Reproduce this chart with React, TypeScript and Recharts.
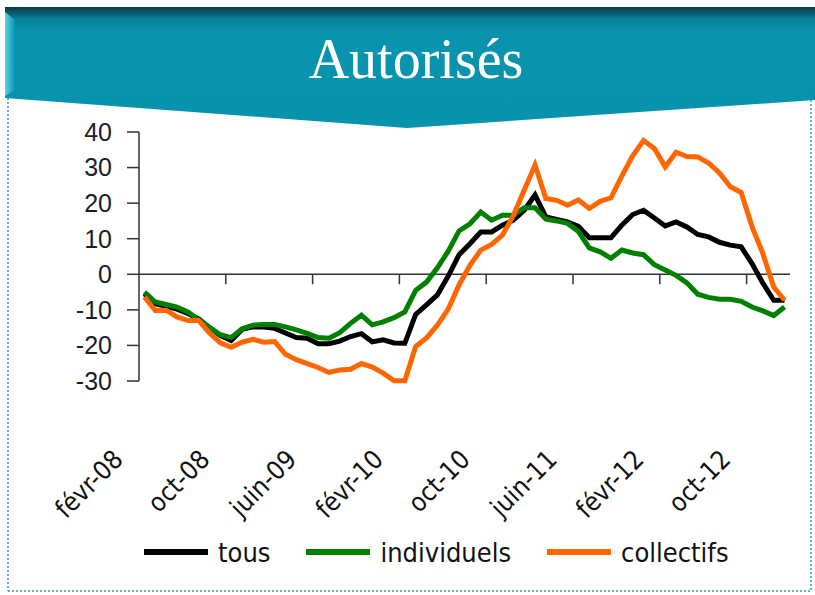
import { LineChart, Line, XAxis, YAxis, ReferenceLine, Legend } from 'recharts';

const monthNames = ['janv', 'févr', 'mars', 'avr', 'mai', 'juin', 'juil', 'août', 'sept', 'oct', 'nov', 'déc'];

// févr-08 .. janv-13, monthly
const months: string[] = Array.from({ length: 60 }, (_, k) => {
  const m = (k + 1) % 12;
  const y = 8 + Math.floor((k + 1) / 12);
  return `${monthNames[m]}-${String(y).padStart(2, '0')}`;
});

const tickLabels = ['févr-08', 'oct-08', 'juin-09', 'févr-10', 'oct-10', 'juin-11', 'févr-12', 'oct-12'];
const yTicks = [-30, -20, -10, 0, 10, 20, 30, 40];
const seriesOrder = ['tous', 'individuels', 'collectifs'];

const tous = [
  -5.5, -8.3, -9, -9.8, -11, -12.5, -15, -17.2, -18.6, -15.5,
  -14.8, -14.8, -15.2, -16.5, -17.8, -18, -19.5, -19.5, -18.8, -17.5,
  -16.7, -19, -18.4, -19.3, -19.4, -11.3, -8.6, -5.8, -0.5, 5.5,
  8.6, 11.9, 11.9, 13.8, 15.2, 18, 22.3, 16.1, 15.4, 14.7,
  13.5, 10.3, 10.3, 10.3, 13.8, 16.8, 18, 15.8, 13.6, 14.7,
  13.3, 11.2, 10.5, 9, 8.2, 7.7, 3, -2.5, -7.3, -7.3,
];

const individuels = [
  -5, -7.8, -8.5, -9.2, -10.6, -12.8, -15, -17, -17.8, -15.3,
  -14.3, -14.1, -14.1, -14.8, -15.6, -16.6, -17.8, -18, -16.4, -13.8,
  -11.5, -14.2, -13.4, -12.2, -10.6, -4.5, -2.2, 1.8, 6.5, 12.2,
  14.2, 17.5, 15.2, 16.6, 16.6, 18.7, 18.7, 15.5, 15, 14.3,
  12, 7.4, 6.3, 4.5, 6.8, 6, 5.5, 2.7, 1.2, -0.3,
  -2.4, -5.6, -6.5, -7, -7, -7.6, -9.2, -10.3, -11.6, -9.2,
];

const collectifs = [
  -6.4, -10.2, -10.1, -12, -13, -13, -16.5, -19.3, -20.5, -19.1,
  -18.3, -19.1, -18.9, -22.5, -24, -25.1, -26.2, -27.6, -26.9, -26.7,
  -25.1, -26.1, -27.8, -29.9, -29.9, -20.3, -17.9, -14.3, -9.8, -3,
  2.5, 6.8, 8.4, 11, 16.5, 23.6, 30.7, 21.3, 20.8, 19.4,
  20.9, 18.5, 20.5, 21.5, 27.6, 33.3, 37.6, 35.4, 30.2, 34.3,
  33.1, 33, 31.3, 28.5, 24.6, 23, 13.4, 5.8, -3.6, -7.3,
];

const data = months.map((month, i) => ({
  i,
  month,
  tous: tous[i],
  individuels: individuels[i],
  collectifs: collectifs[i],
}));

const tickIdx = tickLabels.map((l) => months.indexOf(l));
// small tick marks on the zero axis, between categories
const boundaries = tickIdx.slice(1).map((i) => i - 0.5);

const narrow = '"Liberation Sans Narrow", "DejaVu Sans Condensed", "Arial Narrow", sans-serif';

function MonthTick(props: any) {
  const { x, y, payload } = props;
  return (
    <g transform={`translate(${x - 20},${y + 80})`}>
      <text transform="rotate(-45)" textAnchor="end" fontFamily={narrow} fontSize={26} fill="#111">
        {months[payload.value]}
      </text>
    </g>
  );
}

function LegendContent(props: any) {
  const items = [...(props.payload || [])].sort(
    (a: any, b: any) => seriesOrder.indexOf(a.dataKey) - seriesOrder.indexOf(b.dataKey),
  );
  return (
    <div style={{ display: 'flex', alignItems: 'center', height: 36, paddingLeft: 144 }}>
      {items.map((entry: any) => (
        <div key={entry.value} style={{ display: 'flex', alignItems: 'center', marginRight: 36 }}>
          <span style={{ display: 'inline-block', width: 64, height: 6, background: entry.color, marginRight: 10 }} />
          <span style={{ fontFamily: narrow, fontSize: 27, color: '#111' }}>{entry.value}</span>
        </div>
      ))}
    </div>
  );
}

function Banner() {
  return (
    <svg width={815} height={595} style={{ position: 'absolute', left: 0, top: 0 }}>
      <defs>
        <linearGradient id="band" x1="0" y1="0" x2="0" y2="1">
          <stop offset="0" stopColor="#06394a" />
          <stop offset="0.1" stopColor="#087f99" />
          <stop offset="0.2" stopColor="#0993ae" />
          <stop offset="1" stopColor="#0893ad" />
        </linearGradient>
        <linearGradient id="bevel" x1="0" y1="0" x2="1" y2="0">
          <stop offset="0" stopColor="#5fd3e8" />
          <stop offset="1" stopColor="#0993ae" />
        </linearGradient>
      </defs>
      <polygon points="5,7 815,7 815,100 407,128 5,98" fill="url(#band)" />
      <polygon points="5,12 15,20 15,90 5,96" fill="url(#bevel)" />
      <text x={416} y={78} textAnchor="middle" fontFamily='"Liberation Serif", serif' fontSize={56} fill="#fff">
        Autorisés
      </text>
      <line x1={8} y1={98} x2={8} y2={591} stroke="#2a9db4" strokeWidth={1.5} strokeDasharray="2 2" />
      <line x1={8} y1={591} x2={811} y2={591} stroke="#2a9db4" strokeWidth={1.5} strokeDasharray="2 2" />
      <line x1={811} y1={100} x2={811} y2={591} stroke="#2a9db4" strokeWidth={1.5} strokeDasharray="2 2" />
    </svg>
  );
}

export default function App() {
  return (
    <div style={{ position: 'absolute', left: 0, top: 0, width: 815, height: 595, background: '#fff', overflow: 'hidden' }}>
      <Banner />
      <div style={{ position: 'absolute', left: 0, top: 0 }}>
        <LineChart width={815} height={595} data={data} margin={{ top: 132, right: 25, bottom: 25, left: 0 }}>
          <XAxis
            dataKey="i"
            type="number"
            domain={[-0.5, 59.5]}
            ticks={tickIdx}
            interval={0}
            axisLine={false}
            tickLine={false}
            tickSize={0}
            tickMargin={0}
            height={153}
            tick={<MonthTick />}
          />
          <YAxis
            domain={[-30, 40]}
            ticks={yTicks}
            interval={0}
            width={139}
            tickSize={12}
            tickMargin={15}
            axisLine={{ stroke: '#333', strokeWidth: 1.5 }}
            tickLine={{ stroke: '#333', strokeWidth: 1.5 }}
            tick={{ fontFamily: '"Liberation Sans", Arial, sans-serif', fontSize: 25, fill: '#1c1c2c' }}
          />
          <ReferenceLine y={0} stroke="#333" strokeWidth={1.5} />
          {boundaries.map((b) => (
            <ReferenceLine
              key={b}
              segment={[{ x: b, y: 0 }, { x: b, y: -2.8 }]}
              stroke="#333"
              strokeWidth={1.5}
            />
          ))}
          <Legend verticalAlign="bottom" content={<LegendContent />} />
          <Line type="linear" dataKey="tous" name="tous" stroke="#000000" strokeWidth={5} dot={false} isAnimationActive={false} />
          <Line type="linear" dataKey="individuels" name="individuels" stroke="#008000" strokeWidth={5} dot={false} isAnimationActive={false} />
          <Line type="linear" dataKey="collectifs" name="collectifs" stroke="#ff6600" strokeWidth={5} dot={false} isAnimationActive={false} />
        </LineChart>
      </div>
    </div>
  );
}
